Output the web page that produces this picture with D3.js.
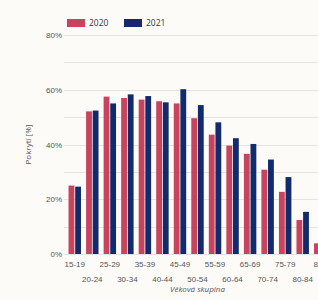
<!DOCTYPE html>
<html>
<head>
<meta charset="utf-8">
<script src="https://cdn.jsdelivr.net/npm/d3@7"></script>
<style>
  html, body { margin: 0; padding: 0; background: #fdfbf8; overflow: hidden; }
  svg { display: block; font-family: "Open Sans", "Noto Sans", sans-serif; }
  .grid line { stroke: #e6e4e2; stroke-width: 1; }
  .tick text { fill: #555; font-size: 8px; }
</style>
</head>
<body>
<div id="chart"></div>
<script>
var groups = ['15-19', '20-24', '25-29', '30-34', '35-39', '40-44', '45-49',
              '50-54', '55-59', '60-64', '65-69', '70-74', '75-79', '80-84', '85+'];
var years = ['2020', '2021'];
var values2020 = [25.0, 52.1, 57.5, 57.0, 56.4, 55.8, 55.0, 49.6, 43.6, 39.6, 36.6, 30.8, 22.7, 12.4, 3.9];
var values2021 = [24.6, 52.4, 55.0, 58.3, 57.7, 55.4, 60.2, 54.4, 48.1, 42.3, 40.2, 34.5, 28.1, 15.4, 5.0];
var yTicks = [0, 20, 40, 60, 80];
var colors = { '2020': '#c8435e', '2021': '#112b6d' };

var width = 318, height = 300,
    margin = { top: 35, left: 66, bottom: 46 },
    plotRight = 329;

var rows = groups.map(function (g, i) {
  return { group: g, '2020': values2020[i], '2021': values2021[i] };
});

var svg = d3.select('#chart')
  .append('svg')
    .attr('width', width)
    .attr('height', height);

var x0 = d3.scaleBand()
  .domain(groups)
  .range([margin.left, plotRight])
  .paddingInner(0.2)
  .paddingOuter(0.1);

var x1 = d3.scaleBand()
  .domain(years)
  .range([0, x0.bandwidth()])
  .padding(0.12);

var y = d3.scaleLinear()
  .domain([0, 80])
  .range([height - margin.bottom, margin.top]);

// gridlines every 10 %
svg.append('g')
    .classed('grid', true)
  .selectAll('line')
  .data(d3.range(0, 81, 10))
  .enter().append('line')
    .attr('x1', margin.left - 2)
    .attr('x2', width)
    .attr('y1', function (d) { return Math.round(y(d)) + 0.5; })
    .attr('y2', function (d) { return Math.round(y(d)) + 0.5; });

var yAxis = svg.append('g')
  .attr('transform', 'translate(' + (margin.left - 4) + ',0)')
  .call(d3.axisLeft(y).tickValues(yTicks).tickSize(0).tickPadding(0)
    .tickFormat(function (d) { return d + '%'; }));
yAxis.select('.domain').remove();

var g = svg.selectAll('g.group')
  .data(rows)
  .enter().append('g')
    .classed('group', true)
    .attr('transform', function (d) { return 'translate(' + x0(d.group) + ',0)'; });

g.selectAll('rect')
  .data(function (d) { return years.map(function (k) { return { key: k, value: d[k] }; }); })
  .enter().append('rect')
    .attr('x', function (d) { return x1(d.key); })
    .attr('width', x1.bandwidth())
    .attr('y', function (d) { return y(d.value); })
    .attr('height', function (d) { return y(0) - y(d.value); })
    .style('fill', function (d) { return colors[d.key]; });

var xAxis = svg.append('g')
  .attr('transform', 'translate(0,' + y(0) + ')')
  .call(d3.axisBottom(x0).tickSize(0).tickPadding(0));
xAxis.select('.domain').remove();
xAxis.selectAll('.tick text')
  .attr('y', function (d, i) { return i % 2 === 0 ? 10 : 25; })
  .attr('dy', '0.35em');

svg.append('text')
  .attr('transform', 'translate(31,' + y(40) + ') rotate(-90)')
  .attr('text-anchor', 'middle')
  .style('font-size', '8px')
  .style('fill', '#555')
  .text('Pokrytí [%]');

svg.append('text')
  .attr('x', (margin.left + plotRight) / 2)
  .attr('y', 292)
  .attr('text-anchor', 'middle')
  .style('font-size', '8px')
  .style('font-style', 'italic')
  .style('fill', '#555')
  .text('Věková skupina');

// legend
var legend = svg.selectAll('g.legend')
  .data(years)
  .enter().append('g')
    .classed('legend', true)
    .attr('transform', function (d, i) { return 'translate(' + (67 + i * 57) + ',19)'; });
legend.append('rect')
  .attr('width', 18)
  .attr('height', 8)
  .style('fill', function (d) { return colors[d]; });
legend.append('text')
  .attr('x', 22)
  .attr('y', 4)
  .attr('dy', '0.35em')
  .style('font-size', '8.5px')
  .style('fill', '#333')
  .text(function (d) { return d; });
</script>
</body>
</html>
